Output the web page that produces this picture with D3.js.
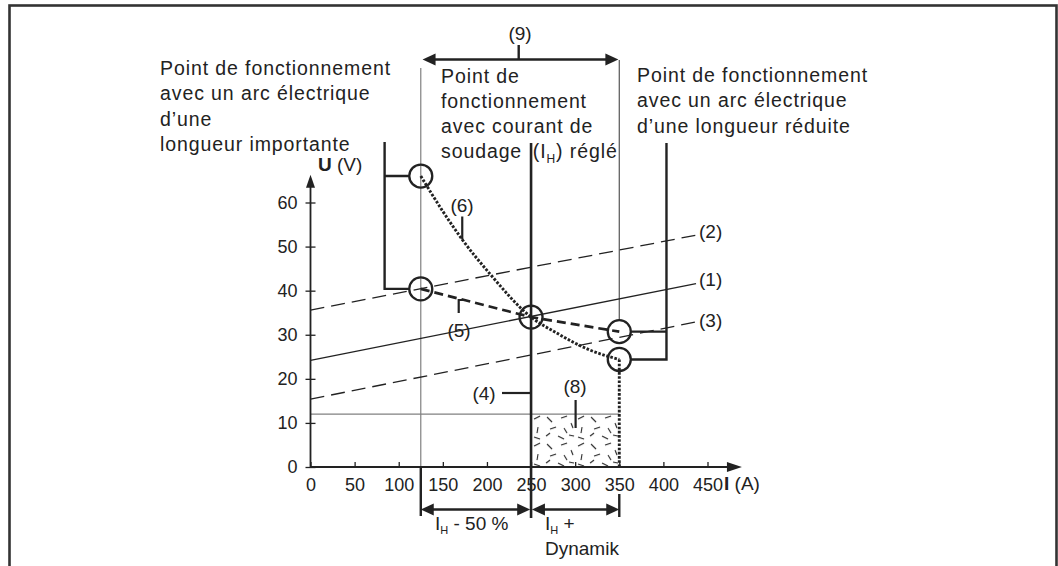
<!DOCTYPE html>
<html>
<head>
<meta charset="utf-8">
<script src="https://cdn.jsdelivr.net/npm/d3@7"></script>
<style>
  html, body { margin: 0; padding: 0; background: #fff; }
  svg { display: block; }
  text { font-family: "Liberation Sans", Arial, Helvetica, sans-serif; fill: #222; }
</style>
</head>
<body>
<svg id="chart" width="1058" height="566"></svg>
<script>
// Axis ticks
const I_TICKS = [0, 50, 100, 150, 200, 250, 300, 350, 400, 450];
const U_TICKS = [0, 10, 20, 30, 40, 50, 60];

// Static characteristics (I in A, U in V)
const CHAR_1 = [[0, 24.2], [437, 41.6]];   // solid
const CHAR_2 = [[0, 35.6], [437, 52.6]];   // dashed, upper
const CHAR_3 = [[0, 15.4], [437, 32.9]];   // dashed, lower

// Operating path (5): constant-voltage behaviour
const PATH_5 = [[125, 40.4], [250, 34.0], [350, 30.7]];
// Operating path (6): dynamic behaviour
const PATH_6 = [[125, 66.0], [150, 58.0], [172, 51.6], [203, 43.9], [250, 34.0],
                [279, 30.4], [317, 26.5], [350, 24.4]];

// Operating points (circled)
const OP_POINTS = [[125, 66.0], [125, 40.4], [250, 34.0], [350, 30.7], [350, 24.4]];

// Currents
const I_SET = 250;      // I_H
const I_LOW = 125;      // I_H - 50 %
const I_HIGH = 350;     // I_H + Dynamik
const U_LIMIT = 12;     // horizontal reference

const svg = d3.select("#chart");
const ink = "#222";
const grey = "#808080";

const x = d3.scaleLinear().domain([0, 450]).range([310.5, 707.5]);
const y = d3.scaleLinear().domain([0, 60]).range([467, 202.5]);
const R = 11.5;

// Outer frame
svg.append("rect")
  .attr("x", 9.5).attr("y", 5.5).attr("width", 1047).attr("height", 620)
  .attr("fill", "none").attr("stroke", "#333").attr("stroke-width", 2.6);

// Texture for region (8)
const defs = svg.append("defs");
const pat = defs.append("pattern").attr("id", "speckle")
  .attr("patternUnits", "userSpaceOnUse").attr("width", 44).attr("height", 27)
  .attr("x", x(I_SET)).attr("y", y(U_LIMIT));
[[3,5,9,2],[16,3,21,8],[30,4,36,2],[40,9,42,14],[7,13,6,19],[19,15,25,13],
 [33,14,36,19],[3,23,9,25],[15,22,19,19],[27,22,33,25],[38,21,43,22]].forEach(s => {
  pat.append("line").attr("x1", s[0]).attr("y1", s[1]).attr("x2", s[2]).attr("y2", s[3])
    .attr("stroke", ink).attr("stroke-width", 1.1);
});

const g = svg.append("g");

// Region (8)
g.append("rect")
  .attr("x", x(I_SET)).attr("y", y(U_LIMIT))
  .attr("width", x(I_HIGH) - x(I_SET)).attr("height", y(0) - y(U_LIMIT))
  .attr("fill", "url(#speckle)");

// Thin reference lines
g.append("line")
  .attr("x1", x(0)).attr("x2", x(I_HIGH)).attr("y1", y(U_LIMIT)).attr("y2", y(U_LIMIT))
  .attr("stroke", grey).attr("stroke-width", 1.2);
g.append("line")
  .attr("x1", x(I_LOW)).attr("x2", x(I_LOW)).attr("y1", 68).attr("y2", y(0))
  .attr("stroke", grey).attr("stroke-width", 1.2);
g.append("line")
  .attr("x1", x(I_HIGH)).attr("x2", x(I_HIGH)).attr("y1", 60).attr("y2", y(30.7) - R)
  .attr("stroke", "#555").attr("stroke-width", 1.2);

const line = d3.line().x(d => x(d[0])).y(d => y(d[1]));

// Characteristics
g.append("path").attr("d", line(CHAR_1)).attr("fill", "none")
  .attr("stroke", ink).attr("stroke-width", 1.3);
g.append("path").attr("d", line(CHAR_2)).attr("fill", "none")
  .attr("stroke", ink).attr("stroke-width", 1.3).attr("stroke-dasharray", "14,7");
g.append("path").attr("d", line(CHAR_3)).attr("fill", "none")
  .attr("stroke", ink).attr("stroke-width", 1.3).attr("stroke-dasharray", "14,7");

// Path (5)
g.append("path").attr("d", line(PATH_5)).attr("fill", "none")
  .attr("stroke", ink).attr("stroke-width", 2.7).attr("stroke-dasharray", "9,5");

// Path (6)
const curve = d3.line().x(d => x(d[0])).y(d => y(d[1])).curve(d3.curveMonotoneX);
g.append("path").attr("d", curve(PATH_6)).attr("fill", "none")
  .attr("stroke", ink).attr("stroke-width", 2.9).attr("stroke-dasharray", "2.6,1.6");
g.append("line")
  .attr("x1", x(I_HIGH)).attr("x2", x(I_HIGH)).attr("y1", y(24.4)).attr("y2", y(0))
  .attr("stroke", ink).attr("stroke-width", 2.9).attr("stroke-dasharray", "2.6,1.6");

// Set current I_H
g.append("line")
  .attr("x1", x(I_SET)).attr("x2", x(I_SET)).attr("y1", 143).attr("y2", 518)
  .attr("stroke", ink).attr("stroke-width", 2.6);

// Operating points
g.selectAll("circle.op").data(OP_POINTS).join("circle")
  .attr("class", "op")
  .attr("cx", d => x(d[0])).attr("cy", d => y(d[1])).attr("r", R)
  .attr("fill", "none").attr("stroke", ink).attr("stroke-width", 2.3);

// Brackets to the operating-point notes
const bLeft = x(84), bRight = x(403.5);
g.append("path")
  .attr("d", `M${x(I_LOW) - R},${y(66)}H${bLeft}V${y(40.4)}H${x(I_LOW) - R}M${bLeft},${y(66)}V142`)
  .attr("fill", "none").attr("stroke", ink).attr("stroke-width", 2.4);
g.append("path")
  .attr("d", `M${x(I_HIGH) + R},${y(30.7)}H${bRight}M${x(I_HIGH) + R},${y(24.4)}H${bRight}V143`)
  .attr("fill", "none").attr("stroke", ink).attr("stroke-width", 2.4);

// Axes
const xAxis = g.append("g").attr("transform", `translate(0,${y(0)})`)
  .call(d3.axisBottom(x).tickValues(I_TICKS).tickSizeInner(-5).tickSizeOuter(0).tickPadding(11));
xAxis.select(".domain").remove();
xAxis.selectAll(".tick line").attr("stroke", ink).attr("stroke-width", 1.3);
xAxis.selectAll(".tick text").attr("font-size", 18).attr("fill", ink)
  .style("font-family", "'Liberation Sans', Arial, sans-serif");

const yAxis = g.append("g").attr("transform", `translate(${x(0)},0)`)
  .call(d3.axisLeft(y).tickValues(U_TICKS).tickSizeInner(5).tickSizeOuter(0).tickPadding(8));
yAxis.select(".domain").remove();
yAxis.selectAll(".tick line").attr("x1", 5).attr("stroke", ink).attr("stroke-width", 1.3);
yAxis.selectAll(".tick text").attr("font-size", 18).attr("fill", ink)
  .style("font-family", "'Liberation Sans', Arial, sans-serif");

// Axis lines with arrowheads
const xTip = x(489), yTip = y(66.3);
g.append("line").attr("x1", x(0)).attr("x2", xTip - 10).attr("y1", y(0)).attr("y2", y(0))
  .attr("stroke", ink).attr("stroke-width", 1.8);
g.append("path").attr("d", `M${xTip},${y(0)}L${xTip - 15},${y(0) - 5}L${xTip - 15},${y(0) + 5}Z`).attr("fill", ink);
g.append("line").attr("x1", x(0)).attr("x2", x(0)).attr("y1", y(0)).attr("y2", yTip + 10)
  .attr("stroke", ink).attr("stroke-width", 1.8);
g.append("path").attr("d", `M${x(0)},${yTip}L${x(0) - 4.5},${yTip + 13}L${x(0) + 4.5},${yTip + 13}Z`).attr("fill", ink);

// Axis titles
const tU = g.append("text").attr("x", 318).attr("y", 171).attr("font-size", 19);
tU.append("tspan").attr("font-weight", "bold").text("U");
tU.append("tspan").text(" (V)");
const tI = g.append("text").attr("x", 724).attr("y", 490).attr("font-size", 19);
tI.append("tspan").attr("font-weight", "bold").text("I");
tI.append("tspan").text(" (A)");

// Double-headed dimension arrows
function dimArrow(i0, i1, yy) {
  const a = x(i0), b = x(i1), h = 6, L = 13;
  g.append("line").attr("x1", a + 4).attr("x2", b - 4).attr("y1", yy).attr("y2", yy)
    .attr("stroke", ink).attr("stroke-width", 2.4);
  g.append("path").attr("d", `M${a},${yy}L${a + L},${yy - h}L${a + L},${yy + h}Z`).attr("fill", ink);
  g.append("path").attr("d", `M${b},${yy}L${b - L},${yy - h}L${b - L},${yy + h}Z`).attr("fill", ink);
}
// (9) range arrow
dimArrow(I_LOW + 2, I_HIGH - 1, 59.5);
g.append("line").attr("x1", x(236)).attr("x2", x(236)).attr("y1", 45).attr("y2", 59.5)
  .attr("stroke", ink).attr("stroke-width", 2.4);

// Bottom ranges
g.append("line").attr("x1", x(I_LOW)).attr("x2", x(I_LOW)).attr("y1", y(0)).attr("y2", 516)
  .attr("stroke", ink).attr("stroke-width", 2.4);
g.append("line").attr("x1", x(I_HIGH)).attr("x2", x(I_HIGH)).attr("y1", 494).attr("y2", 517)
  .attr("stroke", ink).attr("stroke-width", 2.4);
dimArrow(I_LOW, I_SET - 1, 509.5);
dimArrow(I_SET + 1, I_HIGH, 509.5);

// Leader lines for numbered callouts
const leaders = [
  `M${x(172)},216.5V${y(51.6)}`,                          // (6)
  `M${x(168)},313V300H${x(176)}`,                          // (5)
  `M502,393H${x(I_SET)}`,                                  // (4)
  `M${x(300.5)},400V428`                                   // (8)
];
leaders.forEach(d => g.append("path").attr("d", d).attr("fill", "none")
  .attr("stroke", ink).attr("stroke-width", 2.2));

// Callout numbers
const callouts = [
  {t: "(9)", x: 520, y: 40, a: "middle"},
  {t: "(6)", x: 462, y: 212, a: "middle"},
  {t: "(5)", x: 459, y: 337, a: "middle"},
  {t: "(4)", x: 484, y: 400, a: "middle"},
  {t: "(8)", x: 575, y: 393, a: "middle"},
  {t: "(2)", x: 699, y: 238, a: "start"},
  {t: "(1)", x: 699, y: 286, a: "start"},
  {t: "(3)", x: 699, y: 327, a: "start"}
];
g.selectAll("text.callout").data(callouts).join("text")
  .attr("class", "callout")
  .attr("x", d => d.x).attr("y", d => d.y).attr("text-anchor", d => d.a)
  .attr("font-size", 19).text(d => d.t);

// Notes above the chart
function block(lines, x0, y0, dy) {
  const t = g.append("text").attr("x", x0).attr("y", y0)
    .attr("font-size", 19.5).attr("letter-spacing", 0.9);
  lines.forEach((ln, i) => {
    t.append("tspan").attr("x", x0).attr("y", y0 + i * dy).text(ln);
  });
  return t;
}
block(["Point de fonctionnement", "avec un arc électrique", "d\u2019une", "longueur importante"], 160, 75, 25.3);
block(["Point de fonctionnement", "avec un arc électrique", "d\u2019une longueur réduite"], 637, 82, 25.3);

const mid = g.append("text").attr("x", 441).attr("y", 83).attr("font-size", 19.5).attr("letter-spacing", 0.9);
mid.append("tspan").attr("x", 441).attr("y", 83).text("Point de");
mid.append("tspan").attr("x", 441).attr("y", 108).text("fonctionnement");
mid.append("tspan").attr("x", 441).attr("y", 133).text("avec courant de");
mid.append("tspan").attr("x", 441).attr("y", 158).text("soudage\u2002(I");
mid.append("tspan").attr("font-size", 12).attr("dy", 5).text("H");
mid.append("tspan").attr("dy", -5).text(") réglé");

// Range labels under the axis
const l1 = g.append("text").attr("x", 435).attr("y", 530).attr("font-size", 19);
l1.append("tspan").text("I");
l1.append("tspan").attr("font-size", 11).attr("dy", 4).text("H");
l1.append("tspan").attr("dy", -4).text(" - 50 %");
const l2 = g.append("text").attr("x", 545).attr("y", 530).attr("font-size", 19);
l2.append("tspan").text("I");
l2.append("tspan").attr("font-size", 11).attr("dy", 4).text("H");
l2.append("tspan").attr("dy", -4).text(" +");
g.append("text").attr("x", 545).attr("y", 555).attr("font-size", 19).text("Dynamik");
</script>
</body>
</html>
